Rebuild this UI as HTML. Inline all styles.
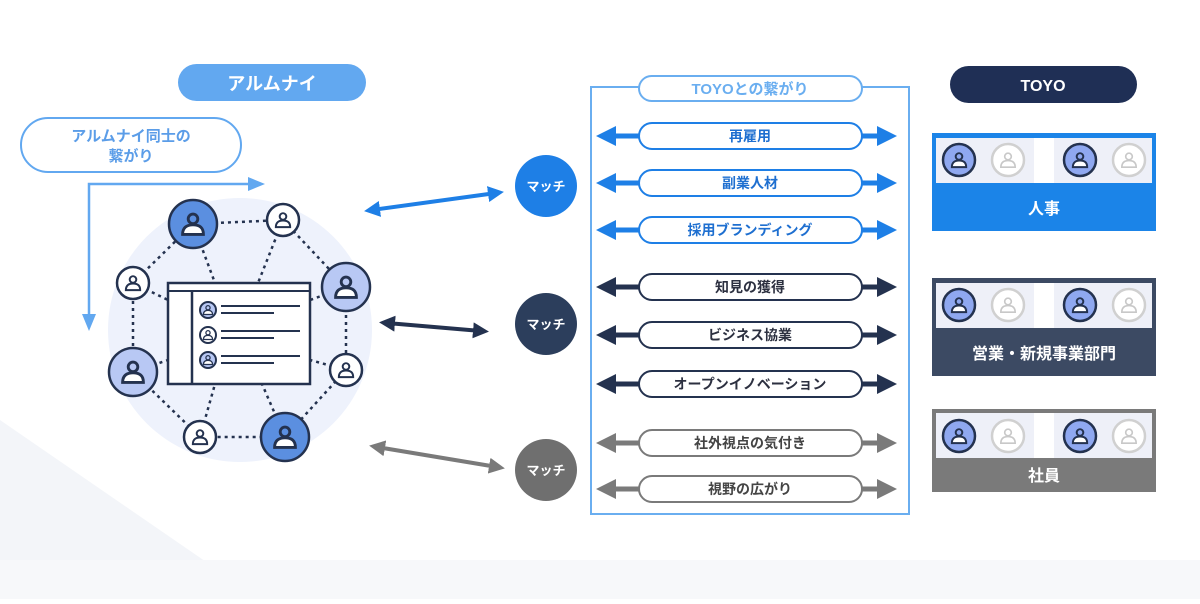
<!DOCTYPE html>
<html><head><meta charset="utf-8"><style>
html,body{margin:0;padding:0;background:#fff}
svg text{font-family:"Liberation Sans","Noto Sans CJK JP",sans-serif;font-weight:bold}
</style></head><body>
<svg width="1200" height="599" viewBox="0 0 1200 599" xmlns="http://www.w3.org/2000/svg">
<defs>
<symbol id="pd" viewBox="-10 -10 20 20"><circle cx="0" cy="-3.2" r="3" fill="none" stroke="#24324f" stroke-width="1.8"/><path d="M-6.5 6.5 Q-6.5 0.5 0 0.5 Q6.5 0.5 6.5 6.5 Z" fill="#fff" stroke="#24324f" stroke-width="1.8"/></symbol>
<symbol id="pg" viewBox="-10 -10 20 20"><circle cx="0" cy="-3.2" r="3" fill="none" stroke="#c8c8c8" stroke-width="1.5"/><path d="M-6.5 6.5 Q-6.5 0.5 0 0.5 Q6.5 0.5 6.5 6.5 Z" fill="none" stroke="#c8c8c8" stroke-width="1.5"/></symbol>
<marker id="ab" markerWidth="4" markerHeight="4" refX="2" refY="2" orient="auto-start-reverse" markerUnits="strokeWidth"><path d="M0 0L4 2L0 4Z" fill="#1e7fe6"/></marker>
<marker id="an" markerWidth="4" markerHeight="4" refX="2" refY="2" orient="auto-start-reverse" markerUnits="strokeWidth"><path d="M0 0L4 2L0 4Z" fill="#24324f"/></marker>
<marker id="ag" markerWidth="4" markerHeight="4" refX="2" refY="2" orient="auto-start-reverse" markerUnits="strokeWidth"><path d="M0 0L4 2L0 4Z" fill="#7a7a7a"/></marker>
</defs>
<rect width="1200" height="599" fill="#fff"/>
<polygon points="0,420 0,599 260,599" fill="#f3f5f9"/>
<rect x="0" y="560" width="1200" height="39" fill="#f7f8fa"/>

<!-- left -->
<rect x="178" y="64" width="188" height="37" rx="18.5" fill="#62a8f0"/>
<text x="272" y="90" font-size="18" fill="#fff" text-anchor="middle">アルムナイ</text>
<rect x="21" y="118" width="220" height="54" rx="27" fill="#fff" stroke="#62a8f0" stroke-width="2"/>
<text x="131" y="141" font-size="15" fill="#5b9de8" text-anchor="middle">アルムナイ同士の</text>
<text x="131" y="161" font-size="15" fill="#5b9de8" text-anchor="middle">繋がり</text>
<path d="M89 318 V184 H250" fill="none" stroke="#62a8f0" stroke-width="2.5"/>
<path d="M248 177 L265 184 L248 191Z" fill="#62a8f0"/>
<path d="M82 314 L89 331 L96 314Z" fill="#62a8f0"/>

<circle cx="240" cy="330" r="132" fill="#eef2fc"/>
<g stroke="#24324f" stroke-width="2.5" stroke-dasharray="3 4" fill="none">
<path d="M193 224 L283 220 L346 287 L346 370 L285 437 L200 437 L133 372 L133 283 Z"/>
<path d="M193 224 L215 283 M283 220 L258 283 M133 283 L168 300 M346 287 L310 300 M133 372 L168 360 M346 370 L310 360 M200 437 L215 384 M285 437 L262 384"/>
</g>
<g stroke="#24324f" stroke-width="2.5">
<circle cx="193" cy="224" r="24" fill="#5b8fe0"/>
<circle cx="283" cy="220" r="16" fill="#fff"/>
<circle cx="133" cy="283" r="16" fill="#fff"/>
<circle cx="346" cy="287" r="24" fill="#b8c8f4"/>
<circle cx="133" cy="372" r="24" fill="#b8c8f4"/>
<circle cx="346" cy="370" r="16" fill="#fff"/>
<circle cx="200" cy="437" r="16" fill="#fff"/>
<circle cx="285" cy="437" r="24" fill="#5b8fe0"/>
</g>
<use href="#pd" x="177" y="208" width="32" height="32"/>
<use href="#pd" x="272" y="209" width="22" height="22"/>
<use href="#pd" x="122" y="272" width="22" height="22"/>
<use href="#pd" x="330" y="271" width="32" height="32"/>
<use href="#pd" x="117" y="356" width="32" height="32"/>
<use href="#pd" x="335" y="359" width="22" height="22"/>
<use href="#pd" x="189" y="426" width="22" height="22"/>
<use href="#pd" x="269" y="421" width="32" height="32"/>
<rect x="168" y="283" width="142" height="101" fill="#fff" stroke="#24324f" stroke-width="2.5"/>
<line x1="168" y1="291" x2="310" y2="291" stroke="#24324f" stroke-width="2"/>
<line x1="192" y1="291" x2="192" y2="384" stroke="#24324f" stroke-width="2.5"/>
<g stroke="#24324f" stroke-width="2">
<circle cx="208" cy="310" r="8" fill="#b8c8f4"/><circle cx="208" cy="335" r="8" fill="#fff"/><circle cx="208" cy="360" r="8" fill="#b8c8f4"/>
<path d="M221 306H300M221 313H274M221 331H300M221 338H274M221 356H300M221 363H274"/>
</g>
<use href="#pd" x="201" y="303" width="14" height="14"/>
<use href="#pd" x="201" y="328" width="14" height="14"/>
<use href="#pd" x="201" y="353" width="14" height="14"/>

<!-- match arrows -->
<line x1="372" y1="210" x2="496" y2="193" stroke="#1e7fe6" stroke-width="4" marker-start="url(#ab)" marker-end="url(#ab)"/>
<line x1="387" y1="323" x2="481" y2="331" stroke="#24324f" stroke-width="4" marker-start="url(#an)" marker-end="url(#an)"/>
<line x1="377" y1="447" x2="497" y2="467" stroke="#7a7a7a" stroke-width="4" marker-start="url(#ag)" marker-end="url(#ag)"/>
<circle cx="546" cy="186" r="31" fill="#1e7fe6"/>
<circle cx="546" cy="324" r="31" fill="#2c3e5c"/>
<circle cx="546" cy="470" r="31" fill="#6f6f6f"/>
<g font-size="13" fill="#fff" text-anchor="middle">
<text x="546" y="191">マッチ</text><text x="546" y="329">マッチ</text><text x="546" y="475">マッチ</text>
</g>

<!-- middle -->
<rect x="591" y="87" width="318" height="427" fill="#fff" stroke="#6aaef0" stroke-width="2"/>
<rect x="639" y="76" width="223" height="25" rx="12.5" fill="#fff" stroke="#6aaef0" stroke-width="2"/>
<text x="750" y="94" font-size="15" fill="#6aaef0" text-anchor="middle">TOYOとの繋がり</text>
<g font-size="14" text-anchor="middle">
<line x1="606" y1="136" x2="887" y2="136" stroke="#1e7fe6" stroke-width="5" marker-start="url(#ab)" marker-end="url(#ab)"/>
<line x1="606" y1="183" x2="887" y2="183" stroke="#1e7fe6" stroke-width="5" marker-start="url(#ab)" marker-end="url(#ab)"/>
<line x1="606" y1="230" x2="887" y2="230" stroke="#1e7fe6" stroke-width="5" marker-start="url(#ab)" marker-end="url(#ab)"/>
<line x1="606" y1="287" x2="887" y2="287" stroke="#24324f" stroke-width="5" marker-start="url(#an)" marker-end="url(#an)"/>
<line x1="606" y1="335" x2="887" y2="335" stroke="#24324f" stroke-width="5" marker-start="url(#an)" marker-end="url(#an)"/>
<line x1="606" y1="384" x2="887" y2="384" stroke="#24324f" stroke-width="5" marker-start="url(#an)" marker-end="url(#an)"/>
<line x1="606" y1="443" x2="887" y2="443" stroke="#7a7a7a" stroke-width="5" marker-start="url(#ag)" marker-end="url(#ag)"/>
<line x1="606" y1="489" x2="887" y2="489" stroke="#7a7a7a" stroke-width="5" marker-start="url(#ag)" marker-end="url(#ag)"/>
<g fill="#fff" stroke-width="2">
<rect x="639" y="123" width="223" height="26" rx="13" stroke="#1e7fe6"/>
<rect x="639" y="170" width="223" height="26" rx="13" stroke="#1e7fe6"/>
<rect x="639" y="217" width="223" height="26" rx="13" stroke="#1e7fe6"/>
<rect x="639" y="274" width="223" height="26" rx="13" stroke="#24324f"/>
<rect x="639" y="322" width="223" height="26" rx="13" stroke="#24324f"/>
<rect x="639" y="371" width="223" height="26" rx="13" stroke="#24324f"/>
<rect x="639" y="430" width="223" height="26" rx="13" stroke="#7a7a7a"/>
<rect x="639" y="476" width="223" height="26" rx="13" stroke="#7a7a7a"/>
</g>
<text x="750" y="141" fill="#1e6fd0">再雇用</text>
<text x="750" y="188" fill="#1e6fd0">副業人材</text>
<text x="750" y="235" fill="#1e6fd0">採用ブランディング</text>
<text x="750" y="292" fill="#2c3040">知見の獲得</text>
<text x="750" y="340" fill="#2c3040">ビジネス協業</text>
<text x="750" y="389" fill="#2c3040">オープンイノベーション</text>
<text x="750" y="448" fill="#444">社外視点の気付き</text>
<text x="750" y="494" fill="#444">視野の広がり</text>
</g>

<!-- right -->
<rect x="950" y="66" width="187" height="37" rx="18.5" fill="#1f2f55"/>
<text x="1043" y="91" font-size="16" fill="#fff" text-anchor="middle">TOYO</text>
<g>
<rect x="932" y="133" width="224" height="98" fill="#1b84e8"/>
<rect x="932" y="278" width="224" height="98" fill="#3c4a63"/>
<rect x="932" y="409" width="224" height="83" fill="#7a7a7a"/>
</g>
<g id="strips">
<rect x="936" y="138" width="216" height="45" fill="#eef0f8"/><rect x="1034" y="138" width="20" height="45" fill="#fff"/>
<rect x="936" y="283" width="216" height="45" fill="#eef0f8"/><rect x="1034" y="283" width="20" height="45" fill="#fff"/>
<rect x="936" y="413" width="216" height="45" fill="#eef0f8"/><rect x="1034" y="413" width="20" height="45" fill="#fff"/>
</g>
<g stroke-width="2.5">
<circle cx="959" cy="160" r="16" fill="#8fa8f0" stroke="#24324f"/><circle cx="1008" cy="160" r="16" fill="#fff" stroke="#d0d0d0"/>
<circle cx="1080" cy="160" r="16" fill="#8fa8f0" stroke="#24324f"/><circle cx="1129" cy="160" r="16" fill="#fff" stroke="#d0d0d0"/>
<circle cx="959" cy="305" r="16" fill="#8fa8f0" stroke="#24324f"/><circle cx="1008" cy="305" r="16" fill="#fff" stroke="#d0d0d0"/>
<circle cx="1080" cy="305" r="16" fill="#8fa8f0" stroke="#24324f"/><circle cx="1129" cy="305" r="16" fill="#fff" stroke="#d0d0d0"/>
<circle cx="959" cy="436" r="16" fill="#8fa8f0" stroke="#24324f"/><circle cx="1008" cy="436" r="16" fill="#fff" stroke="#d0d0d0"/>
<circle cx="1080" cy="436" r="16" fill="#8fa8f0" stroke="#24324f"/><circle cx="1129" cy="436" r="16" fill="#fff" stroke="#d0d0d0"/>
</g>
<use href="#pd" x="948" y="149" width="22" height="22"/><use href="#pg" x="997" y="149" width="22" height="22"/>
<use href="#pd" x="1069" y="149" width="22" height="22"/><use href="#pg" x="1118" y="149" width="22" height="22"/>
<use href="#pd" x="948" y="294" width="22" height="22"/><use href="#pg" x="997" y="294" width="22" height="22"/>
<use href="#pd" x="1069" y="294" width="22" height="22"/><use href="#pg" x="1118" y="294" width="22" height="22"/>
<use href="#pd" x="948" y="425" width="22" height="22"/><use href="#pg" x="997" y="425" width="22" height="22"/>
<use href="#pd" x="1069" y="425" width="22" height="22"/><use href="#pg" x="1118" y="425" width="22" height="22"/>
<g font-size="16" fill="#fff" text-anchor="middle">
<text x="1044" y="214">人事</text>
<text x="1044" y="359">営業・新規事業部門</text>
<text x="1044" y="481">社員</text>
</g>
</svg>
</body></html>
